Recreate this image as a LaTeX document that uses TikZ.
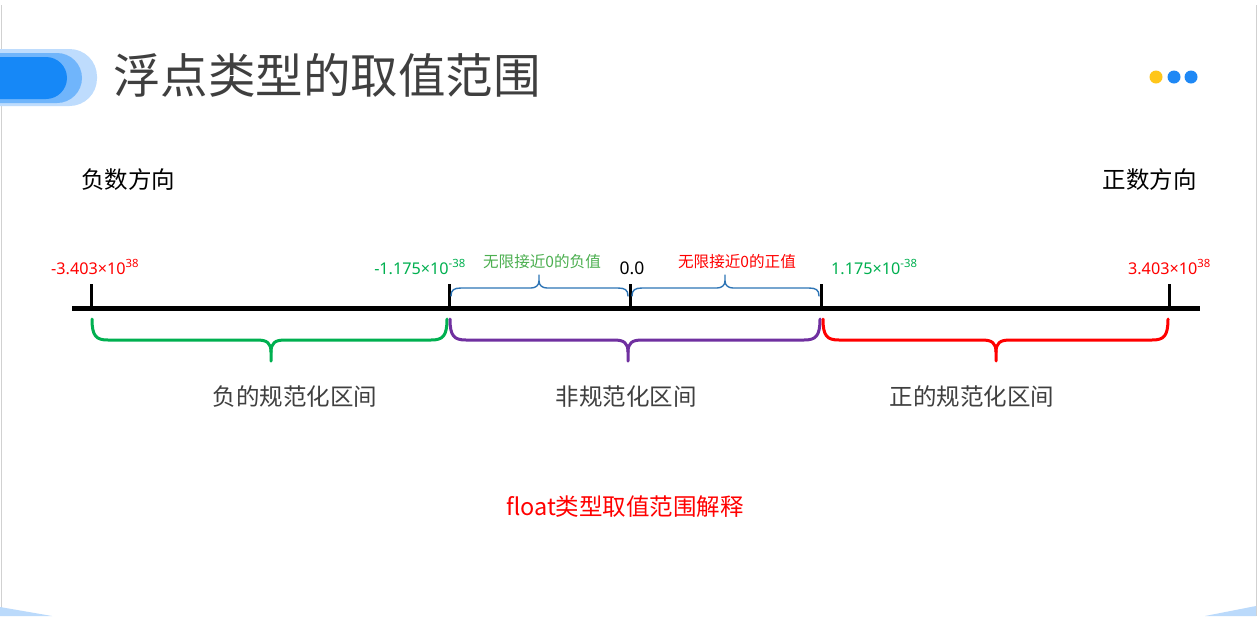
\documentclass[tikz,border=0pt]{standalone}
\usepackage{fontspec}
\setmainfont{Noto Sans}
\newfontfamily\cjk{Noto Sans CJK SC}
\definecolor{logoA}{HTML}{BEDCFD}
\definecolor{logoB}{HTML}{70B5FB}
\definecolor{logoC}{HTML}{1688F7}
\definecolor{dotY}{HTML}{FFC61A}
\definecolor{dotB}{HTML}{1E88F5}
\definecolor{titlegray}{HTML}{3F3F3F}
\definecolor{numred}{HTML}{FF0000}
\definecolor{numgreen}{HTML}{00B050}
\definecolor{lightgreen}{HTML}{4CAF50}
\definecolor{braceblue}{HTML}{2E75B6}
\definecolor{bracepurple}{HTML}{7030A0}
\definecolor{cornerblue}{HTML}{BBDAFB}
\newcommand\mybrlow[4]{%
  \draw[#1, line width=3, line cap=round, line join=round]
    (#2,319) .. controls (#2,336) and (#2+4,340) .. (#2+16,340) -- (#4-14,340)
    .. controls (#4-4,340) and (#4,343) .. (#4,352) -- (#4,361);
  \draw[#1, line width=3, line cap=round, line join=round]
    (#3,319) .. controls (#3,336) and (#3-4,340) .. (#3-16,340) -- (#4+14,340)
    .. controls (#4+4,340) and (#4,343) .. (#4,352);}
\newcommand\mybrup[3]{%
  \draw[braceblue, line width=1.4, line cap=round, line join=round]
    (#1,296) .. controls (#1,290) and (#1+3,288) .. (#1+10,288) -- (#3-8,288)
    .. controls (#3-3,288) and (#3,285) .. (#3,281) -- (#3,275);
  \draw[braceblue, line width=1.4, line cap=round, line join=round]
    (#2,296) .. controls (#2,290) and (#2-3,288) .. (#2-10,288) -- (#3+8,288)
    .. controls (#3+3,288) and (#3,285) .. (#3,281);}
\tikzset{
  numlbl/.style={font=\fontsize{16.2}{19}\selectfont, inner sep=0pt},
  cjklbl/.style={font=\cjk\fontsize{15.6}{18}\selectfont, inner sep=0pt},
  biglbl/.style={font=\cjk\fontsize{23.5}{28}\selectfont, inner sep=0pt},
  tick/.style={line width=3}
}
\begin{document}
\begin{tikzpicture}[x=1pt,y=-1pt]
\useasboundingbox (0,0) rectangle (1259,625);
\fill[white] (0,0) rectangle (1259,625);
% frame
\draw[black!18, line width=1.5] (1.5,5) -- (1.5,616);
\draw[black!18, line width=1.5] (1256.5,5) -- (1256.5,616);
\fill[cornerblue] (0,607) -- (52,616) -- (0,616) -- cycle;
\fill[cornerblue] (1256,606) -- (1256,616) -- (1205,616) -- cycle;
% logo
\fill[logoA, rounded corners=27.5] (-40,49) rectangle (97,106);
\fill[logoB, rounded corners=25] (-40,53) rectangle (82,103);
\fill[logoC, rounded corners=21] (-40,57) rectangle (67,99);
% title
\node[font=\cjk\fontsize{47.5}{54}\selectfont, text=titlegray, anchor=west, inner sep=0pt] (title) at (113,75) {浮点类型的取值范围};
% dots
\fill[dotY] (1156,77) circle (6.5);
\fill[dotB] (1174,77) circle (6.5);
\fill[dotB] (1191,77) circle (6.5);
% directions
\node[biglbl, anchor=west] (neg) at (81,180) {负数方向};
\node[biglbl, anchor=east] (pos) at (1197,180) {正数方向};
% axis
\coordinate (aL) at (72,308);
\coordinate (aR) at (1200,308);
\draw[line width=5] (aL) -- (aR);
\foreach \x in {91,449,630,821,1169} \draw[tick] (\x,284) -- (\x,308);
% number labels
\node[numlbl, text=numred, anchor=west] (n1) at (51,267) {-3.403×10\textsuperscript{38}};
\node[numlbl, text=numgreen, anchor=east] (n2) at (466,267) {-1.175×10\textsuperscript{-38}};
\node[numlbl, text=numgreen, anchor=west] (n3) at (831,267) {1.175×10\textsuperscript{-38}};
\node[numlbl, text=numred, anchor=east] (n4) at (1211,267) {3.403×10\textsuperscript{38}};
\node[font=\fontsize{17.5}{20}\selectfont, inner sep=0pt] (zero) at (632,268) {0.0};
\node[cjklbl, text=lightgreen] (negz) at (542,262) {无限接近0的负值};
\node[cjklbl, text=numred] (posz) at (737,262) {无限接近0的正值};
% braces
\mybrup{451}{628}{539}
\mybrup{632}{819}{725}
\mybrlow{numgreen}{92}{447}{271}
\mybrlow{bracepurple}{450}{820}{628}
\mybrlow{numred}{823}{1168}{996}
% lower labels
\node[biglbl, text=titlegray] (l1) at (295,397) {负的规范化区间};
\node[biglbl, text=titlegray] (l2) at (626,397) {非规范化区间};
\node[biglbl, text=titlegray] (l3) at (972,397) {正的规范化区间};
\node[biglbl, text=numred] (cap) at (625,507) {float类型取值范围解释};
\end{tikzpicture}
\end{document}
